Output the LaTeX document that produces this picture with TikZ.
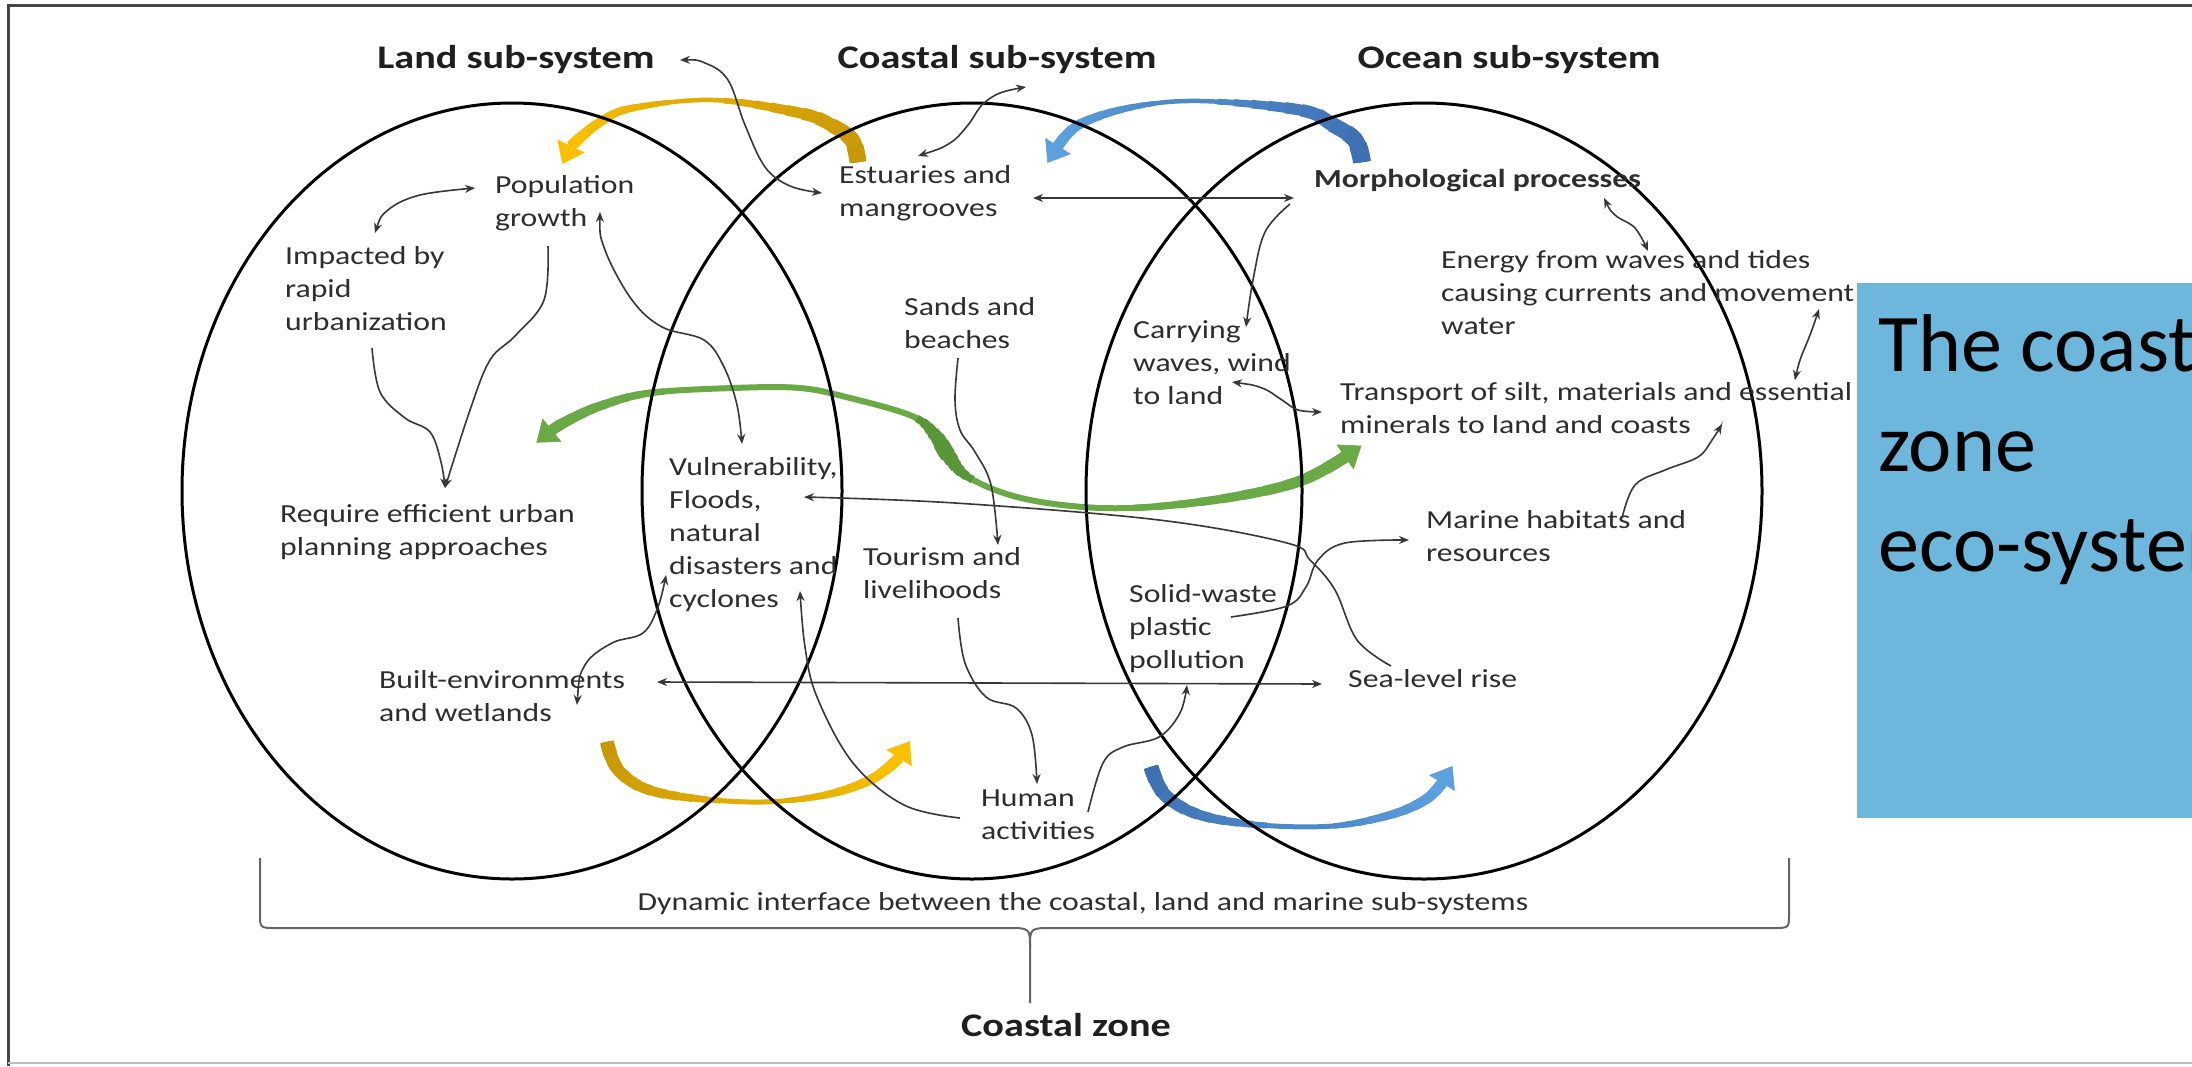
\documentclass[tikz,border=0pt]{standalone}
\usepackage{fontspec}
\setmainfont{Carlito}
\newfontfamily\dg[FakeStretch=1.22]{Carlito}
\newfontfamily\bxf{Carlito}
\usetikzlibrary{arrows.meta,shapes.geometric}
\definecolor{golddark}{RGB}{200,152,8}
\definecolor{goldlight}{RGB}{250,192,0}
\definecolor{bluedark}{RGB}{62,112,178}
\definecolor{bluelight}{RGB}{92,160,222}
\definecolor{bandgreen}{RGB}{106,170,70}
\definecolor{greendark}{RGB}{82,142,50}
\definecolor{boxblue}{RGB}{110,183,220}
\definecolor{framec}{RGB}{70,70,70}
\definecolor{lineg}{RGB}{55,55,55}
% tapered band: #1 forward points, #2 reversed points, #3 start colour, #4 end colour,
% #5 thinnest width, #6 start width, #7 start taper length, #8 end width, #9 end taper length
\newcommand\drawtaper[9]{%
  \draw[#3!50!#4, line width=#5 pt] plot[smooth, tension=0.6] coordinates {#1};
  \foreach \k in {1,...,10}{%
    \pgfmathsetmacro\bandW{#5+(#6-#5)*\k/10}%
    \pgfmathsetmacro\bandL{#7*(11-\k)/10}%
    \pgfmathtruncatemacro\bandP{50+5*\k}%
    \draw[#3!\bandP!#4, line width=\bandW pt, dash pattern=on \bandL pt off 3000pt] plot[smooth, tension=0.6] coordinates {#1};
    \pgfmathsetmacro\bandW{#5+(#8-#5)*\k/10}%
    \pgfmathsetmacro\bandL{#9*(11-\k)/10}%
    \draw[#4!\bandP!#3, line width=\bandW pt, dash pattern=on \bandL pt off 3000pt] plot[smooth, tension=0.6] coordinates {#2};
  }%
}
\begin{document}
\begin{tikzpicture}[x=1pt,y=-1pt,
  txt/.style={font=\dg\fontsize{26pt}{33pt}\selectfont, text=black!82, align=left, anchor=north west, inner sep=0pt},
  ttl/.style={font=\dg\bfseries\fontsize{33pt}{40pt}\selectfont, text=black!88, anchor=base, inner sep=0pt},
  sys/.style={draw=black, line width=3pt, ellipse, inner sep=0pt, minimum width=660pt, minimum height=776pt},
  conn/.style={draw=lineg, line width=1.6pt},
  onehead/.style={conn, -{Stealth[length=10pt,width=8pt]}},
  twohead/.style={conn, {Stealth[length=10pt,width=8pt]}-{Stealth[length=10pt,width=8pt]}},
  bhead/.style={draw=#1, line width=0.5pt, -{Triangle[length=20pt,width=30pt]}},
  brk/.style={draw=black!60, line width=2pt},
]
\useasboundingbox (0,0) rectangle (2192,1066);
\clip (0,0) rectangle (2192,1066);
\fill[white] (0,0) rectangle (2192,1066);
% frame
\draw[framec, line width=3pt] (8,1066) -- (8,5) -- (2192,5);
\draw[black!25, line width=2pt] (8,1063) -- (2192,1063);

% coloured bands (tapered)
\drawtaper{(858,162) (852,140) (833,126) (800,113) (713,100) (633,108) (600,122) (571,146)}
          {(571,146) (600,122) (633,108) (713,100) (800,113) (833,126) (852,140) (858,162)}
          {golddark}{goldlight}{4.5}{17}{160}{11}{110}
\coordinate (yth) at (571,146); \coordinate (ytt) at (562.4,164.1);
\path[bhead=goldlight] (yth) -- (ytt);

\drawtaper{(1362,162) (1355,140) (1333,125) (1300,110) (1200,101) (1133,107) (1080,124) (1058,146)}
          {(1058,146) (1080,124) (1133,107) (1200,101) (1300,110) (1333,125) (1355,140) (1362,162)}
          {bluedark}{bluelight}{4.5}{18}{170}{11}{110}
\coordinate (bth) at (1058,146); \coordinate (btt) at (1047.4,162.9);
\path[bhead=bluelight] (bth) -- (btt);

\drawtaper{(552,430) (567,421) (600,406) (650,393) (733,388) (800,388) (850,398) (912,416) (935,435) (948,455) (968,477) (1017,497) (1083,507) (1150,507) (1233,497) (1300,481) (1345,457)}
          {(1345,457) (1300,481) (1233,497) (1150,507) (1083,507) (1017,497) (968,477) (948,455) (935,435) (912,416) (850,398) (800,388) (733,388) (650,393) (600,406) (567,421) (552,430)}
          {bandgreen}{bandgreen}{6}{11}{120}{12}{220}
\foreach \k in {1,...,6}{%
  \pgfmathsetmacro\bandW{6+10*\k/6}%
  \pgfmathsetmacro\bandH{42*(7-\k)/6}%
  \pgfmathsetmacro\bandA{419-\bandH}%
  \pgfmathsetmacro\bandB{2*\bandH}%
  \draw[greendark!70!bandgreen, line width=\bandW pt, dash pattern=on 0pt off \bandA pt on \bandB pt off 3000pt]
    plot[smooth, tension=0.6] coordinates {(552,430) (567,421) (600,406) (650,393) (733,388) (800,388) (850,398) (912,416) (935,435) (948,455) (968,477) (1017,497) (1083,507) (1150,507) (1233,497) (1300,481) (1345,457)};
}
\coordinate (glh) at (552,430); \coordinate (glt) at (536.4,442.6);
\coordinate (grh) at (1345,457); \coordinate (grt) at (1361.5,445.7);
\path[bhead=bandgreen] (glh) -- (glt);
\path[bhead=bandgreen] (grh) -- (grt);

\drawtaper{(607,742) (620,772) (660,793) (750,802) (820,796) (870,780) (899,758)}
          {(899,758) (870,780) (820,796) (750,802) (660,793) (620,772) (607,742)}
          {golddark}{goldlight}{5}{14}{140}{11}{120}
\coordinate (ybh) at (899,758); \coordinate (ybt) at (909.9,741.2);
\path[bhead=goldlight] (ybh) -- (ybt);

\drawtaper{(1151,767) (1165,795) (1200,815) (1260,825) (1333,826) (1390,815) (1425,800) (1442,783)}
          {(1442,783) (1425,800) (1390,815) (1333,826) (1260,825) (1200,815) (1165,795) (1151,767)}
          {bluedark}{bluelight}{5}{15}{140}{11}{120}
\coordinate (bbh) at (1442,783); \coordinate (bbt) at (1452.4,766);
\path[bhead=bluelight] (bbh) -- (bbt);

% sub-system ellipses
\node[sys] (landsys) at (512,491) {};
\node[sys] (coastsys) at (972,491) {};
\node[sys, minimum width=676pt] (oceansys) at (1424,491) {};

% titles
\node[ttl] (tland) at (516,68) {Land sub-system};
\node[ttl] (tcoast) at (997,68) {Coastal sub-system};
\node[ttl] (tocean) at (1509,68) {Ocean sub-system};

% texts
\node[txt] (pop) at (495,175) {Population\\growth};
\node[txt] (imp) at (285,246) {Impacted by\\rapid\\urbanization};
\node[txt] (req) at (280,504) {Require efficient urban\\planning approaches};
\node[txt] (built) at (379,670) {Built-environments\\and wetlands};
\node[txt] (est) at (839,165) {Estuaries and\\mangrooves};
\node[txt] (sands) at (904,297) {Sands and\\beaches};
\node[txt] (vul) at (669,457) {Vulnerability,\\Floods,\\natural\\disasters and\\cyclones};
\node[txt] (tour) at (863,547) {Tourism and\\livelihoods};
\node[txt] (human) at (981,790) {Human\\activities};
\node[txt, font=\dg\bfseries\fontsize{26pt}{33pt}\selectfont] (morph) at (1314,169) {Morphological processes};
\node[txt] (carry) at (1133,320) {Carrying\\waves, wind\\to land};
\node[txt] (energy) at (1441,250) {Energy from waves and tides\\causing currents and movement\\water};
\node[txt] (trans) at (1340,382) {Transport of silt, materials and essential\\minerals to land and coasts};
\node[txt] (marine) at (1426,510) {Marine habitats and\\resources};
\node[txt] (solid) at (1129,584) {Solid-waste\\plastic\\pollution};
\node[txt] (sea) at (1348,669) {Sea-level rise};
\node[txt, anchor=center] (dyn) at (1083,904) {Dynamic interface between the coastal, land and marine sub-systems};
\node[ttl, anchor=center] (cz) at (1066,1025) {Coastal zone};

% connector end points
\coordinate (c1a) at (375,233);
\coordinate (c1b) at (475,188);
\coordinate (c2a) at (548,246);
\coordinate (c3a) at (372,348);
\coordinate (c2b) at (445,488);
\coordinate (c4a) at (600,212);
\coordinate (c4b) at (742,444);
\coordinate (c5a) at (680,60);
\coordinate (c5b) at (822,193);
\coordinate (c6a) at (918,156);
\coordinate (c6b) at (1026,87);
\coordinate (c7a) at (1033,198);
\coordinate (c7b) at (1294,198);
\coordinate (c8a) at (1290,204);
\coordinate (c8b) at (1246,327);
\coordinate (c9a) at (1232,382);
\coordinate (c9b) at (1322,412);
\coordinate (c10a) at (1604,198);
\coordinate (c10b) at (1648,251);
\coordinate (c11a) at (1819,309);
\coordinate (c11b) at (1795,380);
\coordinate (c12a) at (1622,518);
\coordinate (c12b) at (1722,424);
\coordinate (c13a) at (1391,666);
\coordinate (c13b) at (804,497);
\coordinate (c14a) at (1231,617);
\coordinate (c14b) at (1409,540);
\coordinate (c15a) at (657,682);
\coordinate (c15b) at (1322,684);
\coordinate (c16a) at (577,705);
\coordinate (c16b) at (666,575);
\coordinate (c17a) at (958,358);
\coordinate (c17b) at (998,545);
\coordinate (c18a) at (958,618);
\coordinate (c18b) at (1037,784);
\coordinate (c19a) at (960,818);
\coordinate (c19b) at (800,591);
\coordinate (c20a) at (1088,812);
\coordinate (c20b) at (1187,685);

% connectors
\draw[twohead] plot[smooth, tension=0.6] coordinates {(c1a) (388,210) (420,195) (c1b)};
\draw[onehead] plot[smooth, tension=0.6] coordinates {(c2a) (544,300) (515,336) (490,360) (470,410) (c2b)};
\draw[onehead] plot[smooth, tension=0.6] coordinates {(c3a) (380,392) (405,418) (430,432) (441,462) (c2b)};
\draw[twohead] plot[smooth, tension=0.6] coordinates {(c4a) (605,250) (632,300) (662,327) (704,340) (724,367) (737,405) (c4b)};
\draw[twohead] plot[smooth, tension=0.6] coordinates {(c5a) (705,63) (728,80) (745,125) (765,167) (790,186) (c5b)};
\draw[twohead] plot[smooth, tension=0.6] coordinates {(c6a) (950,143) (968,125) (982,105) (1000,93) (c6b)};
\draw[twohead] (c7a) -- (c7b);
\draw[onehead] plot[smooth, tension=0.6] coordinates {(c8a) (1265,232) (1253,280) (c8b)};
\draw[twohead] plot[smooth, tension=0.6] coordinates {(c9a) (1262,388) (1282,400) (1298,410) (c9b)};
\draw[twohead] plot[smooth, tension=0.6] coordinates {(c10a) (1615,215) (1635,228) (c10b)};
\draw[twohead] plot[smooth, tension=0.6] coordinates {(c11a) (1810,335) (1800,360) (c11b)};
\draw[onehead] plot[smooth, tension=0.6] coordinates {(c12a) (1635,485) (1665,470) (1698,457) (1712,440) (c12b)};
\draw[onehead] plot[smooth, tension=0.6] coordinates {(c13a) (1357,640) (1335,590) (1310,560) (1287,543) (1159,520) (955,503) (c13b)};
\draw[onehead] plot[smooth, tension=0.6] coordinates {(c14a) (1287,606) (1306,587) (1318,560) (1345,543) (c14b)};
\draw[twohead] (c15a) -- (c15b);
\draw[twohead] plot[smooth, tension=0.6] coordinates {(c16a) (585,665) (612,643) (643,633) (658,607) (c16b)};
\draw[onehead] plot[smooth, tension=0.6] coordinates {(c17a) (955,400) (960,430) (975,452) (991,485) (c17b)};
\draw[onehead] plot[smooth, tension=0.6] coordinates {(c18a) (965,663) (986,697) (1016,708) (1032,735) (c18b)};
\draw[onehead] plot[smooth, tension=0.6] coordinates {(c19a) (904,805) (853,763) (817,697) (805,647) (c19b)};
\draw[onehead] plot[smooth, tension=0.6] coordinates {(c20a) (1103,763) (1123,747) (1159,737) (1180,713) (c20b)};

% bracket
\draw[brk] (260,858) -- (260,914) .. controls (260,928) .. (276,928) -- (1008,928) .. controls (1030,928) .. (1030,948) -- (1030,1003);
\draw[brk] (1789,858) -- (1789,914) .. controls (1789,928) .. (1773,928) -- (1052,928) .. controls (1030,928) .. (1030,948);

% slide box
\node[fill=boxblue, anchor=north west, minimum width=420pt, minimum height=535pt, inner sep=0pt] (box) at (1857,283) {};
\node[font=\bxf\fontsize{82pt}{100pt}\selectfont, text=black, align=left, anchor=north west, inner sep=0pt] (boxtxt) at (1878,314) {The coastal\\zone\\eco-system};
\end{tikzpicture}
\end{document}
